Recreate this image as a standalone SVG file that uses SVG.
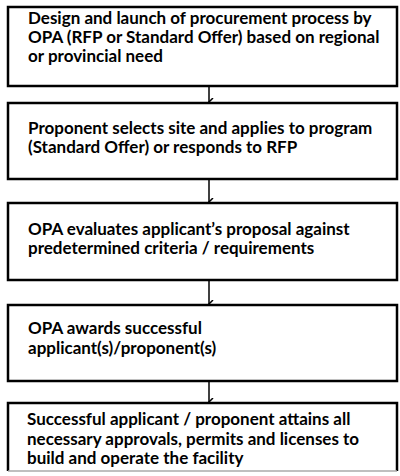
<svg xmlns="http://www.w3.org/2000/svg" width="400" height="476" viewBox="0 0 400 476">
<defs>
<style>
.box{fill:#fff;stroke:#000;stroke-width:2.5}
.t{font-family:Lato,"Liberation Sans",Arial,sans-serif;font-size:17px;fill:#000;font-weight:bold}
.c{stroke:#000;stroke-width:1.5;fill:none}
</style>
<marker id="ah" markerWidth="8" markerHeight="8" refX="4" refY="6" orient="auto-start-reverse" markerUnits="userSpaceOnUse">
<path d="M0,2 L4,6 L8,2" fill="none" stroke="#000" stroke-width="1.5"/>
</marker>
</defs>
<rect width="400" height="476" fill="#fff"/>
<g id="connectors">
<line class="c" x1="209" y1="86" x2="209" y2="102" marker-end="url(#ah)"/>
<line class="c" x1="209" y1="180" x2="209" y2="202" marker-end="url(#ah)"/>
<line class="c" x1="209" y1="281" x2="209" y2="304" marker-end="url(#ah)"/>
<line class="c" x1="209" y1="382" x2="209" y2="402" marker-end="url(#ah)"/>
</g>
<g id="n1">
<rect class="box" x="8" y="7" width="389" height="79"/>
<text class="t" x="28" y="24">Design and launch of procurement process by</text>
<text class="t" x="28" y="43">OPA (RFP or Standard Offer) based on regional</text>
<text class="t" x="28" y="62">or provincial need</text>
</g>
<g id="n2">
<rect class="box" x="8" y="103" width="389" height="76"/>
<text class="t" x="28" y="134">Proponent selects site and applies to program</text>
<text class="t" x="28" y="153">(Standard Offer) or responds to RFP</text>
</g>
<g id="n3">
<rect class="box" x="8" y="203" width="389" height="77"/>
<text class="t" x="28" y="235">OPA evaluates applicant’s proposal against</text>
<text class="t" x="28" y="254">predetermined criteria / requirements</text>
</g>
<g id="n4">
<rect class="box" x="8" y="305" width="389" height="76"/>
<text class="t" x="28" y="334">OPA awards successful</text>
<text class="t" x="28" y="354">applicant(s)/proponent(s)</text>
</g>
<g id="n5">
<rect x="8" y="403" width="389" height="68" fill="#fff"/>
<path d="M8,471 V403 H397 V471" fill="none" stroke="#000" stroke-width="2.5"/>
<path d="M8,471 H397" fill="none" stroke="#aaa" stroke-width="1.5"/>
<text class="t" x="27" y="425">Successful applicant / proponent attains all</text>
<text class="t" x="27" y="445">necessary approvals, permits and licenses to</text>
<text class="t" x="27" y="464">build and operate the facility</text>
</g>
</svg>
